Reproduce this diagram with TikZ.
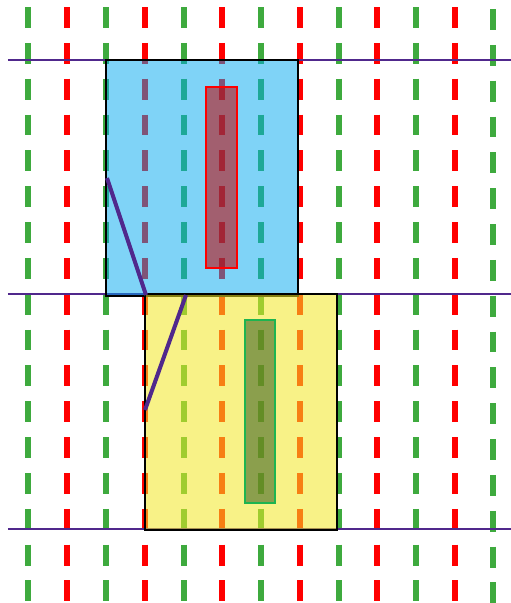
\documentclass[tikz,border=0pt]{standalone}
\usepackage{xcolor}
\usepackage{tikz}
\definecolor{gridgreen}{RGB}{62,170,62}
\definecolor{gridred}{RGB}{255,0,0}
\definecolor{cutpurple}{RGB}{80,40,140}
\definecolor{upperblue}{RGB}{0,168,240}
\definecolor{loweryellow}{RGB}{242,232,36}
\definecolor{maroonbar}{RGB}{192,0,0}
\definecolor{olivebar}{RGB}{50,90,30}
\definecolor{barborder}{RGB}{30,180,80}
\tikzset{
  gridline/.style={
    line width=3.1pt,
    dash pattern=on 11.9pt off 8.5pt
  },
  greenline/.style={gridline, draw=gridgreen},
  redline/.style={gridline, draw=gridred},
  level/.style={
    draw=cutpurple,
    line width=0.6pt
  },
  cut/.style={
    draw=cutpurple,
    line width=2.3pt
  },
  upperblock/.style={
    draw=black,
    line width=1.5pt,
    fill=upperblue,
    fill opacity=0.5
  },
  lowerblock/.style={
    draw=black,
    line width=1.5pt,
    fill=loweryellow,
    fill opacity=0.55
  },
  redbar/.style={
    draw=gridred,
    line width=1.1pt,
    fill=maroonbar,
    fill opacity=0.55
  },
  greenbar/.style={
    draw=barborder,
    line width=1.1pt,
    fill=olivebar,
    fill opacity=0.55
  }
}
\begin{document}
\begin{tikzpicture}[x=0.02cm,y=-0.02cm]
        \useasboundingbox (0,0) rectangle (511,603);
        % vertical grid
        \draw[greenline] (28,7)--(28,603);
        \draw[redline] (67,7)--(67,603);
        \draw[greenline] (106,7)--(106,603);
        \draw[redline] (145,7)--(145,603);
        \draw[greenline] (184,7)--(184,603);
        \draw[redline] (222,7)--(222,603);
        \draw[greenline] (261,7)--(261,603);
        \draw[redline] (300,7)--(300,603);
        \draw[greenline] (339,7)--(339,603);
        \draw[redline] (377,7)--(377,603);
        \draw[greenline] (416,7)--(416,603);
        \draw[redline] (455,7)--(455,603);
        \draw[greenline] (493,9)--(493,603);
        % levels
        \draw[level] (8,60)--(511,60);
        \draw[level] (8,294)--(511,294);
        \draw[level] (8,529)--(511,529);
        % blocks
        \filldraw[upperblock] (106,60) rectangle (298,296);
        \filldraw[lowerblock] (145,294) rectangle (337,530);
        \filldraw[redbar] (206,87) rectangle (237,268);
        \filldraw[greenbar] (245,320) rectangle (275,503);
        % cuts
        \coordinate (ua) at (107,178);
        \coordinate (ub) at (146,295);
        \coordinate (la) at (186,295);
        \coordinate (lb) at (145,410);
        \draw[cut] (ua)--(ub);
        \draw[cut] (la)--(lb);
    \end{tikzpicture}
\end{document}
